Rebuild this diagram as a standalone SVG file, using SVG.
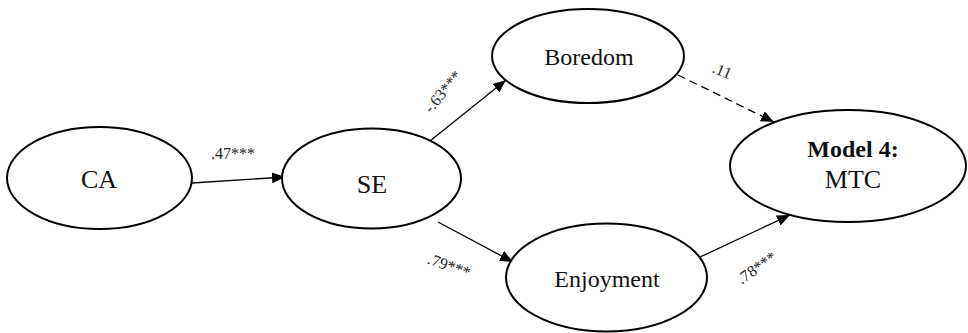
<svg xmlns="http://www.w3.org/2000/svg" width="968" height="333" viewBox="0 0 968 333">
<style>
.node ellipse{fill:#fff;stroke:#000;stroke-width:2}
.lbl{font-family:"Liberation Serif","Times New Roman",serif;font-size:24px;fill:#111;text-anchor:middle}
.big{font-size:26px}
.b{font-weight:bold}
.edge{stroke:#000;stroke-width:1.3;fill:none;marker-end:url(#ah)}
.dash{stroke-dasharray:8 5}
.coef{font-family:"Liberation Serif","Times New Roman",serif;font-size:16px;fill:#222;text-anchor:middle}
</style>
<defs>
<marker id="ah" markerUnits="userSpaceOnUse" markerWidth="13" markerHeight="11" refX="13" refY="5.5" orient="auto">
<path d="M0,0 L13,5.5 L0,11 z" fill="#000"/>
</marker>
</defs>
<rect width="968" height="333" fill="#fff"/>
<g id="connectors">
<line class="edge" x1="192" y1="183" x2="285" y2="177"/>
<line class="edge" x1="430" y1="141" x2="506" y2="80"/>
<line class="edge" x1="438" y1="222" x2="513" y2="262"/>
<line class="edge dash" x1="678" y1="75" x2="774" y2="122"/>
<line class="edge" x1="698" y1="258" x2="790" y2="215"/>
<text class="coef" x="233" y="159">.47***</text>
<text class="coef" transform="translate(443,92) rotate(-50)" y="5">-.63***</text>
<text class="coef" transform="translate(449,266) rotate(20)" y="5">.79***</text>
<text class="coef" transform="translate(722,71) rotate(22)" y="5">.11</text>
<text class="coef" transform="translate(757,268) rotate(-35)" y="5">.78***</text>
</g>
<g id="CA" class="node">
<ellipse cx="99.5" cy="178" rx="92.5" ry="51"/>
<text class="lbl big" x="99" y="188">CA</text>
</g>
<g id="SE" class="node">
<ellipse cx="371.5" cy="178.5" rx="89.5" ry="50"/>
<text class="lbl big" x="372" y="193">SE</text>
</g>
<g id="Boredom" class="node">
<ellipse cx="588" cy="56" rx="96" ry="47"/>
<text class="lbl" x="589" y="65">Boredom</text>
</g>
<g id="Enjoyment" class="node">
<ellipse cx="606.5" cy="277.5" rx="100.5" ry="54"/>
<text class="lbl" x="607" y="287">Enjoyment</text>
</g>
<g id="MTC" class="node">
<ellipse cx="848" cy="166" rx="118" ry="56"/>
<text class="lbl b" x="853" y="157">Model 4:</text>
<text class="lbl big" x="853" y="188">MTC</text>
</g>
</svg>
